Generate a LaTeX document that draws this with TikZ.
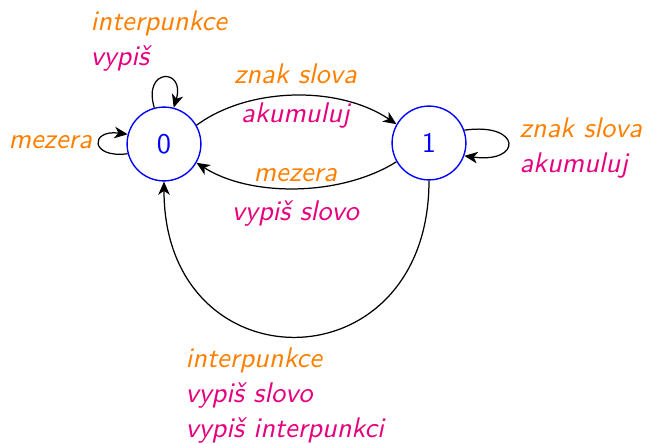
\documentclass[tikz,border=0pt]{standalone}
\usetikzlibrary{arrows.meta}
\definecolor{orng}{RGB}{255,128,0}
\definecolor{mgnt}{RGB}{230,0,126}
\begin{document}
\begin{tikzpicture}[x=0.363pt,y=-0.363pt,
  >={Stealth[length=4.8pt,width=4.2pt,inset=1.4pt]},
  state/.style={circle,draw=blue,text=blue,line width=0.5pt,minimum size=26.8pt,inner sep=0pt,font=\sffamily\fontsize{10.3}{12}\selectfont},
  lab/.style={font=\sffamily\slshape\fontsize{10.3}{12.7}\selectfont,inner sep=0pt},
  edgeline/.style={->,line width=0.45pt}]
\useasboundingbox (0,0) rectangle (647,444);
\node[state] (q0) at (164,144) {0};
\node[state] (q1) at (429,143) {1};
% loops
\draw[edgeline] (q0.105) .. controls +(-12,-40) and +(12,-40) .. (q0.75);
\draw[edgeline] (q0.195) .. controls +(-38,5) and +(-38,-5) .. (q0.165);
\draw[edgeline] (q1.20) .. controls +(58,-8) and +(58,8) .. (q1.-20);
% edges between states
\draw[edgeline] (q0.30) .. controls (250,86) and (340,86) .. (q1.150)
  node[midway,lab,anchor=base,yshift=4.3pt] (l01a) {\color{orng}znak slova}
  node[midway,lab,anchor=base,yshift=-9.8pt] (l01b) {\color{mgnt}akumuluj};
\draw[edgeline] (q1.210) .. controls (340,197) and (250,197) .. (q0.-30)
  node[midway,lab,anchor=base,yshift=2.5pt] (l10a) {\color{orng}mezera}
  node[midway,lab,anchor=base,yshift=-11.6pt] (l10b) {\color{mgnt}vypiš slovo};
\draw[edgeline] (q1.south) .. controls (429,388) and (164,388) .. (q0.south);
% labels
\node[lab,align=left,anchor=north west] (ltop) at (90,10) {\color{orng}interpunkce\\\color{mgnt}vypiš};
\node[lab,anchor=base west] (lleft) at (8,149) {\color{orng}mezera};
\node[lab,align=left,anchor=north west] (lright) at (519,117) {\color{orng}znak slova\\\color{mgnt}akumuluj};
\node[lab,align=left,anchor=north west] (lbot) at (185,347) {\color{orng}interpunkce\\\color{mgnt}vypiš slovo\\\color{mgnt}vypiš interpunkci};
\end{tikzpicture}
\end{document}
